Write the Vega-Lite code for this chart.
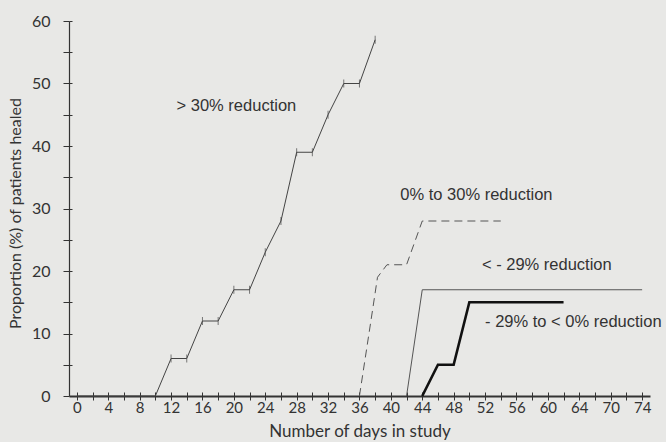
{
  "$schema": "https://vega.github.io/schema/vega-lite/v6.json",
  "width": 581,
  "height": 375,
  "autosize": {"type": "none"},
  "padding": {"left": 69, "top": 21, "right": 16, "bottom": 46},
  "background": "#e8e8e6",
  "config": {"view": {"stroke": null}},
  "datasets": {
    "curves": [
      {"s": "A", "day": 0, "pct": 0}, {"s": "A", "day": 10, "pct": 0}, {"s": "A", "day": 12, "pct": 6},
      {"s": "A", "day": 14, "pct": 6}, {"s": "A", "day": 16, "pct": 12}, {"s": "A", "day": 18, "pct": 12},
      {"s": "A", "day": 20, "pct": 17}, {"s": "A", "day": 22, "pct": 17}, {"s": "A", "day": 24, "pct": 23},
      {"s": "A", "day": 26, "pct": 28}, {"s": "A", "day": 28, "pct": 39}, {"s": "A", "day": 30, "pct": 39},
      {"s": "A", "day": 32, "pct": 45}, {"s": "A", "day": 34, "pct": 50}, {"s": "A", "day": 36, "pct": 50},
      {"s": "A", "day": 38, "pct": 57},
      {"s": "B", "day": 36, "pct": 0}, {"s": "B", "day": 37.7, "pct": 14}, {"s": "B", "day": 38.3, "pct": 19},
      {"s": "B", "day": 39.5, "pct": 21}, {"s": "B", "day": 42, "pct": 21}, {"s": "B", "day": 44, "pct": 28},
      {"s": "B", "day": 54, "pct": 28},
      {"s": "C", "day": 42, "pct": 0}, {"s": "C", "day": 44, "pct": 17}, {"s": "C", "day": 74, "pct": 17},
      {"s": "D", "day": 44, "pct": 0}, {"s": "D", "day": 46, "pct": 5}, {"s": "D", "day": 48, "pct": 5},
      {"s": "D", "day": 50, "pct": 15}, {"s": "D", "day": 62, "pct": 15}
    ],
    "labels": [
      {"day": 12.7, "pct": 46.4, "text": "> 30% reduction"},
      {"day": 41.2, "pct": 32.2, "text": "0% to 30% reduction"},
      {"day": 51.6, "pct": 21, "text": "< - 29% reduction"},
      {"day": 52, "pct": 11.9, "text": "- 29% to < 0% reduction"}
    ]
  },
  "layer": [
    {
      "data": {"name": "curves"},
      "encoding": {
        "x": {
          "field": "day", "type": "quantitative",
          "scale": {"domain": [-1, 64, 70, 75], "range": [0, 510.25, 541.65, 581], "nice": false, "zero": false},
          "axis": {
            "title": "Number of days in study",
            "values": [0,2,4,6,8,10,12,14,16,18,20,22,24,26,28,30,32,34,36,38,40,42,44,46,48,50,52,54,56,58,60,62,64,67,70,72,74],
            "labelExpr": "((datum.value % 4 == 0 && datum.value <= 64) || datum.value == 70 || datum.value == 74) ? datum.label : ''",
            "labelOverlap": false, "labelFlush": false,
            "grid": false, "tickSize": 4, "tickColor": "#333", "domainColor": "#333", "domainWidth": 2,
            "labelFont": "Lato", "labelFontSize": 15, "labelColor": "#333", "labelPadding": 0, "labelDx": -3,
            "titleFont": "Lato", "titleFontSize": 17, "titleFontWeight": "normal", "titleColor": "#333", "titlePadding": 8
          }
        },
        "y": {
          "field": "pct", "type": "quantitative",
          "scale": {"domain": [0, 60], "nice": false},
          "axis": {
            "title": "Proportion (%) of patients healed",
            "values": [0,5,10,15,20,25,30,35,40,45,50,55,60],
            "labelExpr": "datum.value % 10 == 0 ? datum.label : ''",
            "labelOverlap": false, "labelFlush": false,
            "grid": false, "tickSize": 6, "tickColor": "#333", "domainColor": "#333", "domainWidth": 1.2,
            "labelFont": "Lato", "labelFontSize": 16, "labelColor": "#333", "labelPadding": 13,
            "titleFont": "Lato", "titleFontSize": 16, "titleFontWeight": "normal", "titleColor": "#333", "titlePadding": 8,
            "titleY": 192
          }
        }
      },
      "layer": [
        {"transform": [{"filter": "datum.s == 'A'"}], "mark": {"type": "line", "color": "#444", "strokeWidth": 1}},
        {"transform": [{"filter": "datum.s == 'B'"}], "mark": {"type": "line", "color": "#555", "strokeWidth": 1, "strokeDash": [8, 5]}},
        {"transform": [{"filter": "datum.s == 'C'"}], "mark": {"type": "line", "color": "#555", "strokeWidth": 1}},
        {"transform": [{"filter": "datum.s == 'D'"}], "mark": {"type": "line", "color": "#111", "strokeWidth": 2.6}},
        {"transform": [{"filter": "datum.s == 'A' && datum.day >= 12"}], "mark": {"type": "tick", "orient": "vertical", "color": "#444", "size": 8, "thickness": 1}},
        {
          "data": {"name": "labels"},
          "mark": {"type": "text", "align": "left", "baseline": "middle", "font": "Liberation Sans", "fontSize": 16.5, "color": "#333"},
          "encoding": {"text": {"field": "text"}}
        }
      ]
    },
    {
      "data": {"name": "curves"},
      "mark": {"type": "point", "opacity": 0},
      "encoding": {
        "x": {
          "field": "day", "type": "quantitative",
          "scale": {"domain": [-1, 64, 70, 75], "range": [0, 510.25, 541.65, 581], "nice": false, "zero": false},
          "axis": {
            "orient": "bottom", "title": null, "labels": false, "domain": false, "grid": false,
            "values": [0,2,4,6,8,10,12,14,16,18,20,22,24,26,28,30,32,34,36,38,40,42,44,46,48,50,52,54,56,58,60,62,64,67,70,72,74],
            "tickSize": -4, "tickColor": "#333"
          }
        },
        "y": {
          "field": "pct", "type": "quantitative",
          "scale": {"domain": [0, 60], "nice": false},
          "axis": {
            "orient": "left", "title": null, "labels": false, "domain": false, "grid": false,
            "values": [5,10,15,20,25,30,35,40,45,50,55,60],
            "tickSize": -3, "tickColor": "#333"
          }
        }
      }
    }
  ],
  "resolve": {"axis": {"x": "independent", "y": "independent"}}
}
